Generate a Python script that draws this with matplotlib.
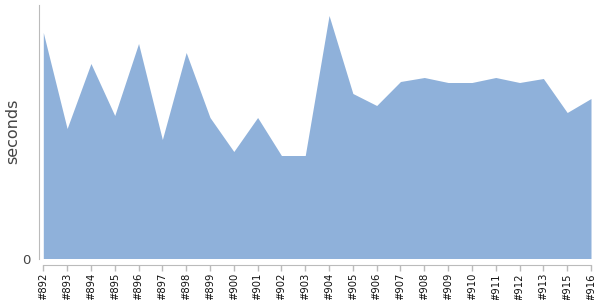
import matplotlib
matplotlib.use("Agg")
import matplotlib.pyplot as plt

builds = ["#892", "#893", "#894", "#895", "#896", "#897", "#898", "#899", "#900",
          "#901", "#902", "#903", "#904", "#905", "#906", "#907", "#908", "#909",
          "#910", "#911", "#912", "#913", "#915", "#916"]
seconds = [226, 130, 195, 143, 215, 119, 206, 141, 107, 141, 103, 103, 243,
           165, 153, 177, 181, 176, 176, 181, 176, 180, 146, 160]

W, H = 600, 300
fig = plt.figure(figsize=(6, 3), dpi=100)
ax = fig.add_axes([43.3 / W, (H - 258.5) / H, (591 - 43.3) / W, (258.5 - 5) / H])

x = list(range(len(builds)))
ax.fill_between(x, 0, seconds, color="#8fb1da", linewidth=0)
ax.set_xlim(0, len(builds) - 1)
ax.set_ylim(0, 253.5)

ax.set_xticks(x)
ax.set_xticklabels(builds)
ax.tick_params(axis="x", length=4, color="#bbbbbb", width=1, pad=1.5,
               labelrotation=90, labelsize=7.2, labelcolor="#111111")
ax.set_yticks([0])
ax.set_yticklabels(["0"])
ax.tick_params(axis="y", length=0, pad=6, labelsize=9.5, labelcolor="#444444")

for s in ("top", "right"):
    ax.spines[s].set_visible(False)
ax.spines["left"].set_position(("outward", 3))
ax.spines["bottom"].set_position(("outward", 5))
ax.spines["left"].set_color("#bbbbbb")
ax.spines["bottom"].set_color("#bbbbbb")

ax.set_ylabel("seconds", fontsize=11.5, color="#444444")
ax.yaxis.set_label_coords(-0.0425, 0.5)

fig.savefig("out.png", dpi=100)
